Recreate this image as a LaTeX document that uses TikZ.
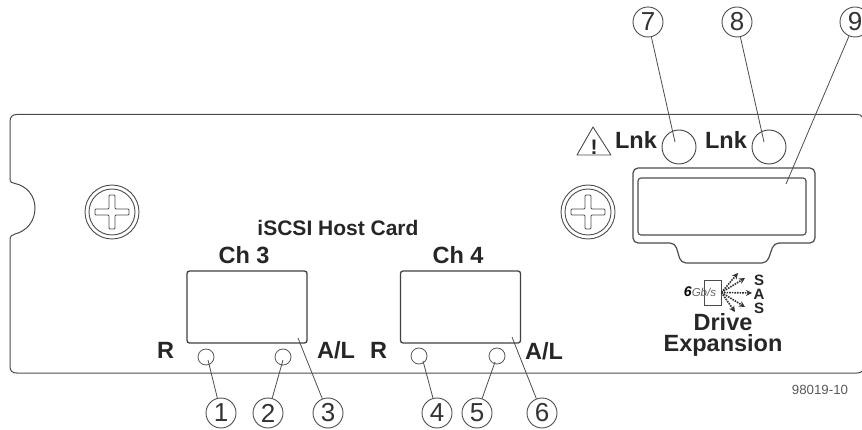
\documentclass[tikz,border=0pt]{standalone}
\usepackage{fontspec}
\setmainfont{Liberation Sans}
\usepackage{tikz}
\usetikzlibrary{arrows.meta}

\tikzset{
  panelline/.style={draw=black!70,line width=1pt},
  leader/.style={draw=black!70,line width=0.8pt},
  callout/.style={circle,draw=black!70,line width=0.9pt,fill=white,minimum size=30pt,inner sep=0pt,text=black!80,font=\fontsize{26}{26}\selectfont},
  legend/.style={inner sep=0pt,text=black!85,font=\fontsize{23.5}{23.5}\selectfont\bfseries},
  portbox/.style={rectangle,rounded corners=2.5pt,draw=black!75,line width=1.3pt,minimum width=120pt,minimum height=72pt,inner sep=0pt},
  ledsmall/.style={circle,draw=black!65,line width=0.8pt,minimum size=16pt,inner sep=0pt},
  ledbig/.style={circle,draw=black!75,line width=0.9pt,minimum size=34pt,inner sep=0pt},
  rayline/.style={draw=black!80,line width=1.6pt,densely dotted,-{Stealth[length=6pt,width=6pt]}}
}

\begin{document}
\begin{tikzpicture}[x=1pt,y=-1pt]
  \useasboundingbox (0,0) rectangle (862,430);

  \draw[panelline] (862,117) .. controls (861,115) and (860,114.5) .. (857,114.5) -- (17,114.5)
    .. controls (12,114.5) and (10,117) .. (10,122) -- (10,180)
    .. controls (10,182) and (12,183) .. (15,183.5)
    .. controls (27,186) and (35,196) .. (35,208)
    .. controls (35,221) and (27,231) .. (15,234)
    .. controls (12,235) and (10,236) .. (10,240) -- (10,366)
    .. controls (10,371) and (12,373) .. (17,373) -- (857,373)
    .. controls (860,373) and (861,372.5) .. (862,371);

  \foreach \sname/\sx in {screwa/112,screwb/588} {
    \begin{scope}[shift={(\sx,212)}]
      \node[circle,draw=black!70,line width=0.9pt,minimum size=54pt,inner sep=0pt] (\sname) at (0,0) {};
      \node[circle,draw=black!70,line width=0.9pt,minimum size=46pt,inner sep=0pt] (\sname in) at (0,0) {};
      \draw[black!70,line width=0.9pt,rounded corners=1pt] (-3,-3) -- (-3,-17) -- (3,-17) -- (3,-3) -- (17,-3) -- (17,3) -- (3,3) -- (3,17) -- (-3,17) -- (-3,3) -- (-17,3) -- (-17,-3) -- cycle;
    \end{scope}
  }

  \node[legend,font=\fontsize{21}{21}\selectfont\bfseries] (title) at (338,228) {iSCSI Host Card};
  \node[legend] (ch3) at (244,255) {Ch 3};
  \node[legend] (ch4) at (458,255) {Ch 4};
  \node[portbox] (port3) at (247,307) {};
  \node[portbox] (port4) at (460.5,307) {};

  \node[legend] (r3) at (165.5,350) {R};
  \node[legend] (al3) at (336,350) {A/L};
  \node[legend] (r4) at (378.5,350) {R};
  \node[legend] (al4) at (544,351) {A/L};

  \node[ledsmall] (led1) at (206,357) {};
  \node[ledsmall] (led2) at (283,357) {};
  \node[ledsmall] (led4) at (419,356) {};
  \node[ledsmall] (led5) at (497,356) {};

  \node[legend] (lnka) at (636,140) {Lnk};
  \node[legend] (lnkb) at (726,140) {Lnk};
  \node[ledbig] (led7) at (679,147) {};
  \node[ledbig] (led8) at (769,147) {};

  \coordinate (tria) at (593,127);
  \coordinate (trib) at (611,155);
  \coordinate (tric) at (577,155);
  \draw[black!70,line width=0.9pt,line join=round] (tria) -- (trib) -- (tric) -- cycle;
  \node[legend,font=\fontsize{21}{21}\selectfont\bfseries] (warn) at (594,147) {!};

  \draw[panelline,line width=1.2pt,rounded corners=5pt] (633,243) -- (633,168) -- (815,168) -- (815,243) -- (774,243) -- (767,263) -- (681,263) -- (675,243) -- cycle;
  \node[rectangle,rounded corners=3pt,draw=black!70,line width=1.1pt,minimum width=168pt,minimum height=57pt,inner sep=0pt] (sasport) at (722,206.5) {};

  \node[rectangle,draw=black!70,line width=0.8pt,minimum width=17pt,minimum height=25pt,inner sep=0pt] (gbox) at (712.5,292.5) {};
  \node[inner sep=0pt] (gbps) at (700,291.5) {\fontsize{14}{14}\selectfont\bfseries\itshape 6\fontsize{11.5}{12}\selectfont\mdseries\color{black!60}Gb/s};
  \coordinate (raya) at (738,273);
  \coordinate (rayb) at (745,278);
  \coordinate (rayc) at (752,293);
  \coordinate (rayd) at (745,307);
  \coordinate (raye) at (735,312);
  \foreach \rayend in {raya,rayb,rayc,rayd,raye}
    \draw[rayline] (gbox.east) -- (\rayend);
  \node[legend,font=\fontsize{15}{15}\selectfont\bfseries] (sasa) at (759,280) {S};
  \node[legend,font=\fontsize{15}{15}\selectfont\bfseries] (sasb) at (759,294) {A};
  \node[legend,font=\fontsize{15}{15}\selectfont\bfseries] (sasc) at (759,308) {S};
  \node[legend,align=center,font=\fontsize{23.5}{21}\selectfont\bfseries] (drive) at (723,334.5) {Drive\\Expansion};
  \node[inner sep=0pt,text=black!65,font=\fontsize{13.3}{13.3}\selectfont] (partno) at (820,390) {98019-10};

  \node[callout] (c1) at (221,413) {1};
  \node[callout] (c2) at (268,413) {2};
  \node[callout] (c3) at (328,413) {3};
  \node[callout] (c4) at (437,413) {4};
  \node[callout] (c5) at (477,413) {5};
  \node[callout] (c6) at (542,413) {6};
  \node[callout] (c7) at (648,22) {7};
  \node[callout] (c8) at (737,22) {8};
  \node[callout] (c9) at (855,22) {9};

  \coordinate (end1) at (208,360);
  \coordinate (end2) at (283,360);
  \coordinate (end3) at (298,338);
  \coordinate (end4) at (423,361);
  \coordinate (end5) at (495,362);
  \coordinate (end6) at (512,337);
  \coordinate (end7) at (675,142);
  \coordinate (end8) at (764,142);
  \coordinate (end9) at (786,184);
  \foreach \cnum in {1,...,9}
    \draw[leader] (c\cnum) -- (end\cnum);
\end{tikzpicture}
\end{document}
